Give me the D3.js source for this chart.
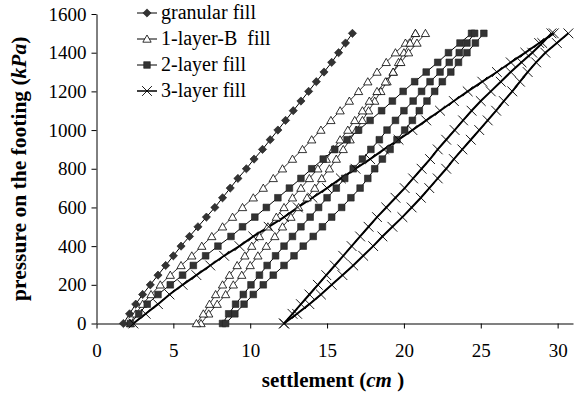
<!DOCTYPE html>
<html>
<head>
<meta charset="utf-8">
<script src="https://cdn.jsdelivr.net/npm/d3@7"></script>
<style>
  html, body { margin: 0; padding: 0; background: #fff; }
  svg { display: block; }
</style>
</head>
<body>
<svg id="chart" width="576" height="393"></svg>
<script>
// Applied pressure steps (kPa)
const pressure = [0, 50, 100, 150, 200, 250, 300, 350, 400, 450, 500, 550, 600, 650, 700, 750,
                  800, 850, 900, 950, 1000, 1050, 1100, 1150, 1200, 1250, 1300, 1350, 1400, 1450, 1500];

// Settlement (cm) at each pressure step
const granular = [1.75, 2.15, 2.55, 3.0, 3.5, 4.0, 4.5, 5.0, 5.5, 6.05, 6.6, 7.15, 7.7, 8.2, 8.7, 9.2,
                  9.75, 10.25, 10.8, 11.3, 11.8, 12.3, 12.8, 13.3, 13.8, 14.3, 14.8, 15.3, 15.75, 16.2, 16.65];

const oneLayerB_a = [2.2, 2.55, 3.0, 3.55, 4.15, 4.8, 5.5, 6.2, 6.85, 7.5, 8.2, 8.85, 9.5, 10.2, 10.85, 11.5,
                     12.1, 12.75, 13.4, 14.0, 14.6, 15.25, 15.85, 16.45, 17.05, 17.65, 18.25, 18.85, 19.45, 20.1, 20.75];
const oneLayerB_b = [6.8, 7.3, 7.85, 8.4, 8.9, 9.45, 10.0, 10.5, 11.05, 11.6, 12.1, 12.65, 13.15, 13.7, 14.2, 14.65,
                     15.15, 15.6, 16.05, 16.5, 16.9, 17.3, 17.7, 18.1, 18.5, 18.9, 19.3, 19.65, 20.0, 20.4, 20.75];
const oneLayerB_c = [6.5, 6.95, 7.35, 7.75, 8.2, 8.65, 9.15, 9.65, 10.1, 10.6, 11.15, 11.7, 12.2, 12.75, 13.3, 13.85,
                     14.4, 14.95, 15.4, 15.85, 16.35, 16.8, 17.3, 17.75, 18.25, 18.8, 19.3, 19.8, 20.3, 20.85, 21.4];

const twoLayer_a = [2.2, 2.75, 3.3, 4.0, 4.8, 5.6, 6.3, 7.1, 7.9, 8.75, 9.5, 10.3, 11.05, 11.8, 12.55, 13.3,
                    14.0, 14.75, 15.5, 16.3, 17.05, 17.8, 18.55, 19.25, 19.95, 20.7, 21.45, 22.2, 22.9, 23.65, 24.4];
const twoLayer_b = [8.2, 8.6, 9.05, 9.55, 10.05, 10.6, 11.1, 11.65, 12.2, 12.75, 13.3, 13.9, 14.45, 15.0, 15.6, 16.15,
                    16.7, 17.3, 17.85, 18.4, 18.9, 19.45, 20.0, 20.6, 21.15, 21.7, 22.35, 22.95, 23.6, 24.1, 24.6];
const twoLayer_c = [8.4, 9.0, 9.6, 10.2, 10.85, 11.5, 12.2, 12.85, 13.45, 14.1, 14.7, 15.3, 15.95, 16.55, 17.15, 17.65,
                    18.1, 18.6, 19.1, 19.55, 20.05, 20.55, 21.0, 21.5, 22.0, 22.5, 23.05, 23.55, 24.1, 24.65, 25.2];

const threeLayer_a = [2.4, 3.2, 4.0, 4.75, 5.6, 6.5, 7.4, 8.3, 9.3, 10.2, 11.2, 12.2, 13.1, 14.05, 15.0, 15.9,
                      16.85, 17.8, 18.7, 19.65, 20.55, 21.45, 22.35, 23.25, 24.15, 25.1, 26.05, 26.95, 27.9, 28.8, 29.75];
const threeLayer_b = [12.2, 12.75, 13.3, 13.85, 14.4, 14.95, 15.5, 16.05, 16.6, 17.15, 17.7, 18.25, 18.85, 19.45, 20.05, 20.6,
                      21.15, 21.7, 22.2, 22.75, 23.3, 23.85, 24.4, 25.0, 25.65, 26.3, 26.95, 27.65, 28.35, 29.0, 29.6];
const threeLayer_c = [12.2, 13.05, 13.85, 14.6, 15.3, 16.0, 16.7, 17.35, 18.0, 18.6, 19.25, 19.9, 20.5, 21.1, 21.65, 22.2,
                      22.75, 23.25, 23.8, 24.35, 24.9, 25.45, 26.0, 26.5, 27.05, 27.55, 28.05, 28.6, 29.2, 29.95, 30.7];

// Legend entries and axis ticks
const legendLabels = ["granular fill", "1-layer-B  fill", "2-layer fill", "3-layer fill"];
const xTicks = [0, 5, 10, 15, 20, 25, 30];
const yTicks = [0, 200, 400, 600, 800, 1000, 1200, 1400, 1600];

const FONT = "'Liberation Serif', 'Times New Roman', Times, serif";

// Marker / line styling per fill type
const styles = {
  granular: { symbol: "diamond",  lineWidth: 1.0 },
  oneLayer: { symbol: "triangle", lineWidth: 0.8 },
  twoLayer: { symbol: "square",   lineWidth: 1.0 },
  threeLayer: { symbol: "times",  lineWidth: 2.0 }
};

const curves = [
  { kind: "granular", values: granular },
  { kind: "oneLayer", values: oneLayerB_a },
  { kind: "oneLayer", values: oneLayerB_b },
  { kind: "oneLayer", values: oneLayerB_c },
  { kind: "twoLayer", values: twoLayer_a },
  { kind: "twoLayer", values: twoLayer_b },
  { kind: "twoLayer", values: twoLayer_c },
  { kind: "threeLayer", values: threeLayer_a },
  { kind: "threeLayer", values: threeLayer_b },
  { kind: "threeLayer", values: threeLayer_c }
];

const svg = d3.select("#chart");
const plotLeft = 96.5, plotRight = 573, plotTop = 14, plotBottom = 323.5;

const x = d3.scaleLinear().domain([0, 31]).range([plotLeft, plotRight]);
const y = d3.scaleLinear().domain([0, 1600]).range([plotBottom, plotTop]);

function drawMarker(g, kind, cx, cy) {
  const s = styles[kind].symbol;
  if (s === "diamond") {
    g.append("path")
      .attr("d", d3.symbol().type(d3.symbolSquare).size(34)())
      .attr("transform", `translate(${cx},${cy}) rotate(45)`)
      .attr("fill", "#333").attr("stroke", "#222").attr("stroke-width", 0.6);
  } else if (s === "triangle") {
    g.append("path")
      .attr("d", d3.symbol().type(d3.symbolTriangle).size(30)())
      .attr("transform", `translate(${cx},${cy + 0.8})`)
      .attr("fill", "#fff").attr("stroke", "#000").attr("stroke-width", 0.8);
  } else if (s === "square") {
    g.append("path")
      .attr("d", d3.symbol().type(d3.symbolSquare).size(44)())
      .attr("transform", `translate(${cx},${cy})`)
      .attr("fill", "#333").attr("stroke", "#222").attr("stroke-width", 0.6);
  } else {
    g.append("path")
      .attr("d", d3.symbol().type(d3.symbolTimes).size(64)())
      .attr("transform", `translate(${cx},${cy})`)
      .attr("fill", "none").attr("stroke", "#000").attr("stroke-width", 0.9);
  }
}

// Axes
const yAxis = svg.append("g")
  .attr("transform", `translate(${plotLeft},0)`)
  .call(d3.axisLeft(y).tickValues(yTicks).tickFormat(d3.format("d"))
        .tickSize(5).tickSizeOuter(0).tickPadding(5));
yAxis.attr("font-family", null).attr("font-size", null);
yAxis.select(".domain").attr("stroke", "#000").attr("stroke-width", 1);
yAxis.selectAll(".tick line").attr("stroke", "#000");
yAxis.selectAll(".tick text").style("font-family", FONT).style("font-size", "19px").attr("fill", "#000");

const xAxis = svg.append("g")
  .attr("transform", `translate(0,${plotBottom})`)
  .call(d3.axisBottom(x).tickValues(xTicks).tickFormat(d3.format("d"))
        .tickSize(5).tickSizeOuter(0).tickPadding(15));
xAxis.attr("font-family", null).attr("font-size", null);
xAxis.select(".domain").attr("stroke", "#808080").attr("stroke-width", 2);
xAxis.selectAll(".tick line").attr("stroke", "#000");
xAxis.selectAll(".tick text").style("font-family", FONT).style("font-size", "19px").attr("fill", "#000");

// Curves
const line = d3.line().x(d => x(d[0])).y(d => y(d[1]));
const plot = svg.append("g");
curves.forEach(c => {
  const pts = c.values.map((v, i) => [v, pressure[i]]);
  plot.append("path")
    .attr("d", line(pts))
    .attr("fill", "none")
    .attr("stroke", "#000")
    .attr("stroke-width", styles[c.kind].lineWidth);
});
curves.forEach(c => {
  const g = plot.append("g");
  c.values.forEach((v, i) => drawMarker(g, c.kind, x(v), y(pressure[i])));
});

// Legend
const legendKinds = ["granular", "oneLayer", "twoLayer", "threeLayer"];
const legend = svg.append("g");
legendLabels.forEach((lab, i) => {
  const ly = 13 + i * 26;
  legend.append("line")
    .attr("x1", 137).attr("x2", 157).attr("y1", ly).attr("y2", ly)
    .attr("stroke", "#000").attr("stroke-width", legendKinds[i] === "threeLayer" ? 1.5 : 1);
  drawMarker(legend, legendKinds[i], 147, ly);
  legend.append("text")
    .attr("x", 161).attr("y", ly + 6)
    .style("font-family", FONT).style("font-size", "20px")
    .style("white-space", "pre")
    .text(lab);
});

// Axis titles
const xt = svg.append("text")
  .attr("x", 333).attr("y", 387)
  .attr("text-anchor", "middle")
  .style("font-family", FONT).style("font-size", "21px").style("font-weight", "bold");
xt.append("tspan").text("settlement (");
xt.append("tspan").style("font-style", "italic").text("cm");
xt.append("tspan").style("white-space", "pre").text(" )");

const yt = svg.append("text")
  .attr("transform", `translate(26,${(plotTop + plotBottom) / 2}) rotate(-90)`)
  .attr("text-anchor", "middle")
  .style("font-family", FONT).style("font-size", "21.5px").style("font-weight", "bold");
yt.append("tspan").text("pressure on the footing (");
yt.append("tspan").style("font-style", "italic").text("kPa");
yt.append("tspan").text(")");
</script>
</body>
</html>
